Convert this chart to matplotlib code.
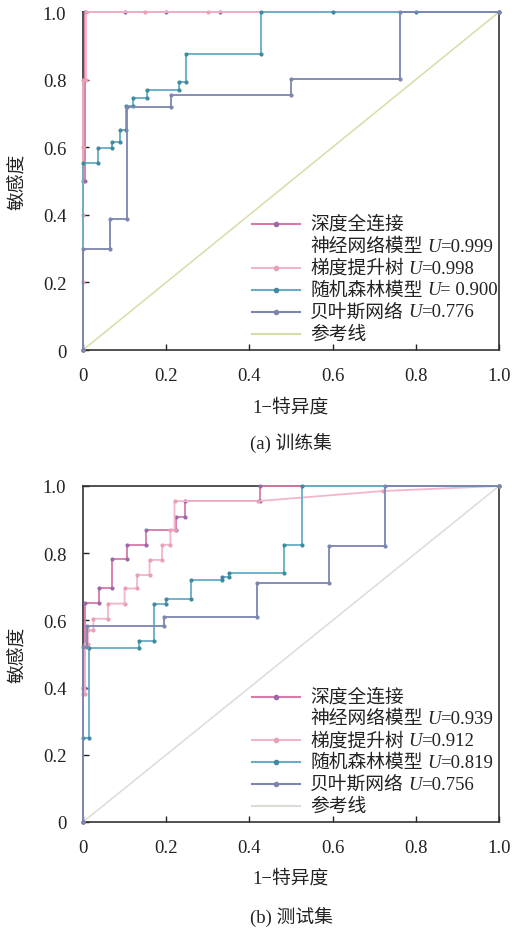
import matplotlib
matplotlib.use("Agg")
import matplotlib.pyplot as plt

plt.rcParams["font.family"] = ["Liberation Serif", "Noto Sans CJK SC"]
plt.rcParams["font.size"] = 13.5

# ROC curves (fpr = 1-特异度, tpr = 敏感度)
model_names = ["深度全连接", "梯度提升树", "随机森林模型", "贝叶斯网络"]
ref_name = "参考线"

# (a) 训练集
dnn_train_fpr = [0, 0, 0.005, 0.005, 0.1, 0.2, 0.33, 1.0]
dnn_train_tpr = [0, 0.5, 0.5, 1.0, 1.0, 1.0, 1.0, 1.0]
gbt_train_fpr = [0, 0, 0, 0, 0, 0.008, 0.008, 0.15, 0.3, 1.0]
gbt_train_tpr = [0, 0.2, 0.4, 0.6, 0.8, 0.8, 1.0, 1.0, 1.0, 1.0]
rf_train_fpr = [0, 0, 0.036, 0.036, 0.07, 0.07, 0.088, 0.088, 0.104, 0.104, 0.12, 0.12,
                0.155, 0.155, 0.23, 0.23, 0.248, 0.248, 0.427, 0.427, 0.6, 0.8, 1.0]
rf_train_tpr = [0, 0.552, 0.552, 0.597, 0.597, 0.616, 0.616, 0.65, 0.65, 0.722, 0.722, 0.745,
                0.745, 0.77, 0.77, 0.794, 0.794, 0.877, 0.877, 1.0, 1.0, 1.0, 1.0]
nb_train_fpr = [0, 0, 0.066, 0.066, 0.106, 0.106, 0.212, 0.212, 0.499, 0.499, 0.761, 0.761, 1.0]
nb_train_tpr = [0, 0.298, 0.298, 0.387, 0.387, 0.72, 0.72, 0.753, 0.753, 0.803, 0.803, 1.0, 1.0]

# (b) 测试集
dnn_test_fpr = [0, 0, 0.005, 0.005, 0.038, 0.038, 0.07, 0.07, 0.106, 0.106, 0.152, 0.152,
                0.224, 0.224, 0.246, 0.246, 0.425, 0.425, 1.0]
dnn_test_tpr = [0, 0.4, 0.4, 0.653, 0.653, 0.697, 0.697, 0.784, 0.784, 0.824, 0.824, 0.869,
                0.869, 0.909, 0.909, 0.955, 0.955, 1.0, 1.0]
gbt_test_fpr = [0, 0, 0.005, 0.005, 0.012, 0.012, 0.025, 0.025, 0.06, 0.06, 0.1, 0.1, 0.13,
                0.13, 0.16, 0.16, 0.19, 0.19, 0.21, 0.21, 0.22, 0.22, 0.42, 0.72, 1.0]
gbt_test_tpr = [0, 0.38, 0.38, 0.53, 0.53, 0.57, 0.57, 0.605, 0.605, 0.65, 0.65, 0.695, 0.695,
                0.735, 0.735, 0.78, 0.78, 0.825, 0.825, 0.87, 0.87, 0.955, 0.955, 0.985, 1.0]
rf_test_fpr = [0, 0, 0.015, 0.015, 0.135, 0.135, 0.17, 0.17, 0.2, 0.2, 0.259, 0.259, 0.333,
               0.333, 0.35, 0.35, 0.483, 0.483, 0.527, 0.527, 1.0]
rf_test_tpr = [0, 0.25, 0.25, 0.519, 0.519, 0.54, 0.54, 0.648, 0.648, 0.665, 0.665, 0.719, 0.719,
               0.73, 0.73, 0.74, 0.74, 0.823, 0.823, 1.0, 1.0]
nb_test_fpr = [0, 0, 0.01, 0.01, 0.195, 0.195, 0.418, 0.418, 0.591, 0.591, 0.725, 0.725, 1.0]
nb_test_tpr = [0, 0.52, 0.52, 0.583, 0.583, 0.611, 0.611, 0.71, 0.71, 0.82, 0.82, 1.0, 1.0]

auc_train = ["0.999", "0.998", " 0.900", "0.776"]
auc_test = ["0.939", "0.912", "0.819", "0.756"]

ticks = [0, 0.2, 0.4, 0.6, 0.8, 1.0]
tick_labels = ["0", "0.2", "0.4", "0.6", "0.8", "1.0"]

colors = ["#d77aa8", "#f2b6c8", "#66aec6", "#7c86ae"]
marker_colors = ["#9a6aa8", "#e8a0b8", "#3f8aa0", "#7c86ae"]


def draw_panel(ax, curves, aucs, ref_color):
    ax.plot([0, 1], [0, 1], color=ref_color, lw=1.1, zorder=1)
    for (fpr, tpr), c, mc in zip(curves, colors, marker_colors):
        ax.plot(fpr, tpr, color=c, lw=1.3, marker="o", ms=2.0, mfc=mc, mec=mc,
                clip_on=False, zorder=3)

    ax.set_xlim(0, 1)
    ax.set_ylim(0, 1)
    ax.set_xticks(ticks, tick_labels)
    ax.set_yticks(ticks, tick_labels)
    ax.tick_params(direction="in", length=4, width=1, pad=12, colors="#222222")
    for sp in ax.spines.values():
        sp.set_color("#333333")
        sp.set_linewidth(1.2)

    ax.set_xlabel("1−特异度", color="#222222")
    ax.xaxis.set_label_coords(0.5, -0.14)
    ax.set_ylabel("敏感度", color="#222222")
    ax.yaxis.set_label_coords(-0.135, 0.5)

    # legend drawn by hand (first label spans two lines, U in italic)
    rows = [0.373, 0.308, 0.243, 0.178, 0.113, 0.048]
    x0, x1, xt = 0.406, 0.522, 0.546
    handle_rows = [0, 2, 3, 4]
    for i, r in enumerate(handle_rows):
        y = rows[r]
        ax.plot([x0, x1], [y, y], transform=ax.transAxes, color=colors[i], lw=1.5)
        ax.plot([(x0 + x1) / 2], [y], transform=ax.transAxes, marker="o", ms=3,
                color=marker_colors[i])
    ax.plot([x0, x1], [rows[5], rows[5]], transform=ax.transAxes, color=ref_color, lw=1.5)

    ax.text(xt, rows[0], model_names[0], transform=ax.transAxes, va="center",
            color="#222222")
    prefixes = ["神经网络模型", model_names[1], model_names[2], model_names[3]]
    for k, (pre, auc) in enumerate(zip(prefixes, aucs)):
        t1 = ax.text(xt, rows[k + 1], pre, transform=ax.transAxes, va="center",
                     color="#222222")
        t2 = ax.annotate("U", xy=(1, 0), xycoords=t1, xytext=(3, 0),
                         textcoords="offset points", va="bottom", ha="left",
                         style="italic", color="#222222")
        ax.annotate("=" + auc, xy=(1, 0), xycoords=t2, va="bottom", ha="left",
                    color="#222222")
    ax.text(xt, rows[5], ref_name, transform=ax.transAxes, va="center", color="#222222")


fig = plt.figure(figsize=(5.12, 9.29), dpi=100)
ax1 = fig.add_axes([83 / 512, 1 - 351 / 929, 416 / 512, 338 / 929])
ax2 = fig.add_axes([83 / 512, 1 - 823 / 929, 416 / 512, 336 / 929])

draw_panel(ax1, [(dnn_train_fpr, dnn_train_tpr), (gbt_train_fpr, gbt_train_tpr),
                 (rf_train_fpr, rf_train_tpr), (nb_train_fpr, nb_train_tpr)],
           auc_train, "#d3dfa6")
draw_panel(ax2, [(dnn_test_fpr, dnn_test_tpr), (gbt_test_fpr, gbt_test_tpr),
                 (rf_test_fpr, rf_test_tpr), (nb_test_fpr, nb_test_tpr)],
           auc_test, "#dcdcd6")

fig.text(291 / 512, 1 - 443 / 929, "(a) 训练集", ha="center", va="center", color="#222222")
fig.text(291 / 512, 1 - 917 / 929, "(b) 测试集", ha="center", va="center", color="#222222")

fig.savefig("out.png", dpi=100)
